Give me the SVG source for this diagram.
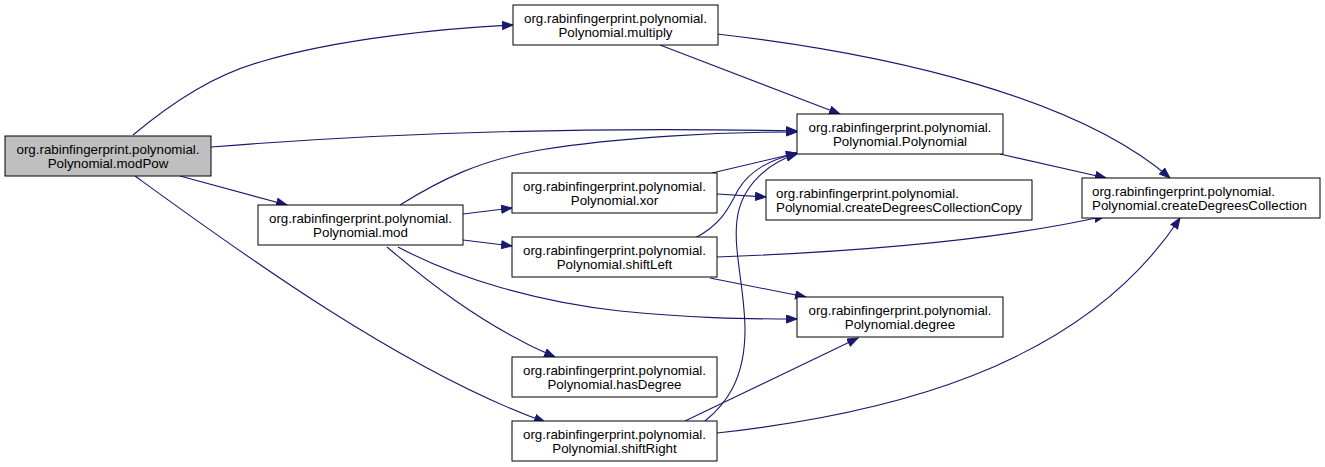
<svg xmlns="http://www.w3.org/2000/svg" width="1325" height="467" viewBox="0 0 1325 467">
<defs>
<style>
.n rect{fill:#ffffff;stroke:#000000;stroke-width:1}
.n.root rect{fill:#bfbfbf}
.n text{font-family:"Liberation Sans",Arial,sans-serif;font-size:13.33px;fill:#000000;text-anchor:middle}
.n.left text{text-anchor:start}
.e path{fill:none;stroke:#191970;stroke-width:1.1;marker-end:url(#arr)}
</style>
<marker id="arr" markerUnits="userSpaceOnUse" markerWidth="13" markerHeight="10" refX="11" refY="4.5" orient="auto">
<path d="M0.5,0.5 L11,4.5 L0.5,8.5 Z" fill="#191970" stroke="#191970" stroke-width="1"/>
</marker>
</defs>
<rect x="0" y="0" width="1325" height="467" fill="#ffffff"/>
<g id="edges" class="e">
<path d="M133,135 C175,100 215,75 260,62 C340,38 450,28 513,25"/>
<path d="M211,147 C400,132 600,127 797,131"/>
<path d="M180,176 L287,205"/>
<path d="M135,176 C230,245 400,370 545,422"/>
<path d="M660,45 L840,114"/>
<path d="M717,34 C900,55 1080,100 1170,178"/>
<path d="M400,205 C440,180 480,160 540,150 C620,137 720,132 797,132"/>
<path d="M463,214 L512,208"/>
<path d="M463,240 L512,246"/>
<path d="M398,247 C460,280 540,302 620,311 C690,318 740,319 797,319"/>
<path d="M387,247 C420,275 480,325 555,357"/>
<path d="M712,173 L797,153"/>
<path d="M717,194 L766,197"/>
<path d="M695,238 C720,225 728,210 738,190 C750,170 770,160 797,153"/>
<path d="M705,421 C725,405 745,380 745,330 C745,290 733,250 737,220 C741,185 770,162 797,154"/>
<path d="M717,257 C850,252 1000,240 1105,216"/>
<path d="M710,278 L806,297"/>
<path d="M685,421 L858,338"/>
<path d="M717,433 C880,415 1080,370 1180,218"/>
<path d="M1000,154 L1106,178"/>
</g>
<g id="modPow" class="n root"><rect x="5" y="136" width="206" height="40"/><text x="108" y="154">org.rabinfingerprint.polynomial.</text><text x="108" y="168">Polynomial.modPow</text></g>
<g id="multiply" class="n"><rect x="513" y="5" width="205" height="40"/><text x="615.5" y="23">org.rabinfingerprint.polynomial.</text><text x="615.5" y="37">Polynomial.multiply</text></g>
<g id="mod" class="n"><rect x="258" y="205" width="205" height="40"/><text x="360.5" y="223">org.rabinfingerprint.polynomial.</text><text x="360.5" y="237">Polynomial.mod</text></g>
<g id="Polynomial" class="n"><rect x="797" y="114" width="206" height="40"/><text x="900" y="132">org.rabinfingerprint.polynomial.</text><text x="900" y="146">Polynomial.Polynomial</text></g>
<g id="xor" class="n"><rect x="512" y="173" width="205" height="40"/><text x="614.5" y="191">org.rabinfingerprint.polynomial.</text><text x="614.5" y="205">Polynomial.xor</text></g>
<g id="createDegreesCollectionCopy" class="n left"><rect x="766" y="180" width="266" height="40"/><text x="776" y="198">org.rabinfingerprint.polynomial.</text><text x="776" y="212">Polynomial.createDegreesCollectionCopy</text></g>
<g id="createDegreesCollection" class="n left"><rect x="1082" y="178" width="238" height="40"/><text x="1092" y="196">org.rabinfingerprint.polynomial.</text><text x="1092" y="210">Polynomial.createDegreesCollection</text></g>
<g id="shiftLeft" class="n"><rect x="512" y="237" width="205" height="40"/><text x="614.5" y="255">org.rabinfingerprint.polynomial.</text><text x="614.5" y="269">Polynomial.shiftLeft</text></g>
<g id="degree" class="n"><rect x="797" y="297" width="206" height="40"/><text x="900" y="315">org.rabinfingerprint.polynomial.</text><text x="900" y="329">Polynomial.degree</text></g>
<g id="hasDegree" class="n"><rect x="512" y="357" width="205" height="40"/><text x="614.5" y="375">org.rabinfingerprint.polynomial.</text><text x="614.5" y="389">Polynomial.hasDegree</text></g>
<g id="shiftRight" class="n"><rect x="512" y="421" width="205" height="40"/><text x="614.5" y="439">org.rabinfingerprint.polynomial.</text><text x="614.5" y="453">Polynomial.shiftRight</text></g>
</svg>
